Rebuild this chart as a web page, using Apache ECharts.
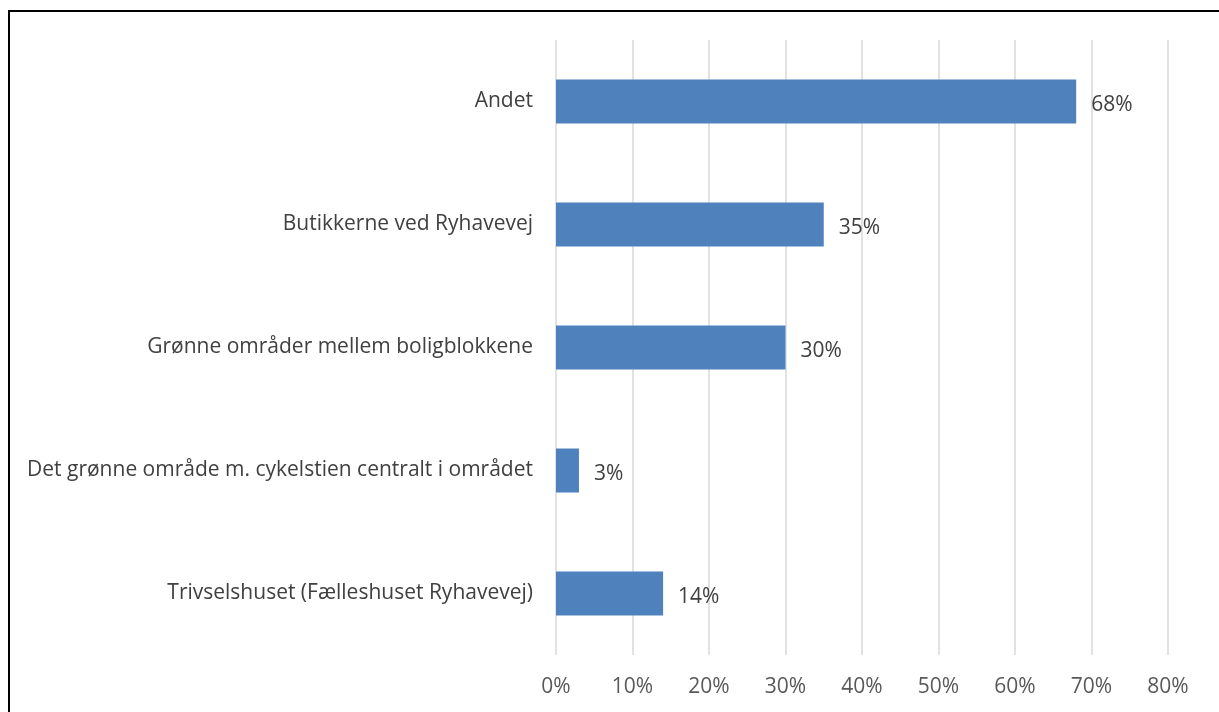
<!DOCTYPE html>
<html><head><meta charset="utf-8">
<script src="https://cdn.jsdelivr.net/npm/echarts@6/dist/echarts.min.js"></script>
<style>
html,body{margin:0;padding:0;background:#fff;}
#frame{position:absolute;left:8px;top:10px;width:1300px;height:800px;border-top:2px solid #000;border-left:2px solid #000;box-sizing:border-box;}
#c{position:absolute;left:0;top:0;width:1219px;height:712px;}
</style></head>
<body>
<div id="frame"></div>
<div id="c"></div>
<script>
const categories = [
  "Trivselshuset (Fælleshuset Ryhavevej)",
  "Det grønne område m. cykelstien centralt i området",
  "Grønne områder mellem boligblokkene",
  "Butikkerne ved Ryhavevej",
  "Andet"
];
const values = [14, 3, 30, 35, 68];
const tickMax = 80;
const tickStep = 10;

const chart = echarts.init(document.getElementById('c'));
chart.setOption({
  animation: false,
  grid: {left: 556, right: 51, top: 40, bottom: 57, containLabel: false},
  xAxis: {
    type: 'value', min: 0, max: tickMax, interval: tickStep,
    axisLine: {show: false}, axisTick: {show: false},
    splitLine: {show: true, lineStyle: {color: '#d9d9d9', width: 1.5}},
    axisLabel: {formatter: '{value}%', color: '#595959', fontSize: 21, fontFamily: 'Open Sans', margin: 22}
  },
  yAxis: {
    type: 'category', data: categories,
    axisLine: {show: false}, axisTick: {show: false},
    axisLabel: {color: '#404040', fontSize: 21, fontFamily: 'Open Sans', margin: 23, padding: [5, 0, 0, 0]}
  },
  series: [{
    type: 'bar', data: values, barWidth: 44,
    itemStyle: {color: '#4f81bd'},
    label: {show: true, position: 'right', distance: 15, offset: [0, 4], formatter: '{c}%', color: '#404040', fontSize: 21, fontFamily: 'Open Sans'}
  }]
});
</script>
</body></html>
